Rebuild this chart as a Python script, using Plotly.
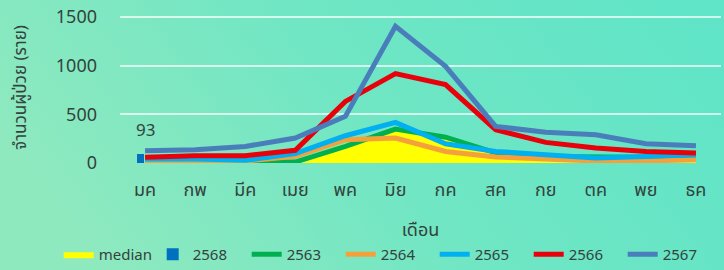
import base64
import plotly.graph_objects as go

months = ["มค", "กพ", "มีค", "เมย", "พค", "มิย", "กค", "สค", "กย", "ตค", "พย", "ธค"]
median = [10, 10, 10, 30, 200, 340, 255, 80, 50, 30, 30, 40]
y2568 = [93]
y2563 = [10, 10, 10, 10, 170, 349, 265, 105, 68, 60, 60, 70]
y2564 = [20, 20, 20, 68, 240, 257, 119, 62, 41, 20, 20, 34]
y2565 = [40, 40, 27, 96, 280, 417, 198, 119, 85, 51, 68, 85]
y2566 = [58, 75, 75, 130, 633, 918, 805, 342, 212, 154, 119, 103]
y2567 = [126, 135, 170, 257, 479, 1404, 993, 376, 315, 291, 198, 178]

FONT = "Noto Sans Thai, Noto Sans, sans-serif"
TXT = "#33433d"

svg = """<svg xmlns='http://www.w3.org/2000/svg' width='724' height='270' preserveAspectRatio='none'>
<defs><linearGradient id='g' x1='0' y1='0.3' x2='1' y2='0'>
<stop offset='0' stop-color='#8ee9bf'/>
<stop offset='0.45' stop-color='#6fe6c4'/>
<stop offset='1' stop-color='#5ce4c8'/>
</linearGradient></defs>
<rect width='724' height='270' fill='url(#g)'/>
</svg>"""
bg = "data:image/svg+xml;base64," + base64.b64encode(svg.encode()).decode()

fig = go.Figure()
fig.add_trace(go.Scatter(x=months, y=median, name="median", mode="lines",
                         fill="tozeroy", fillcolor="#ffff00",
                         line=dict(color="#ffff00", width=0)))
fig.add_trace(go.Bar(x=months[:len(y2568)], y=y2568, name="2568",
                     marker=dict(color="#0070c0", line=dict(width=0)),
                     width=0.14, offset=-0.16))
series = [("2563", y2563, "#00b050"), ("2564", y2564, "#f4a13c"),
          ("2565", y2565, "#00b0f0"), ("2566", y2566, "#e8000b"),
          ("2567", y2567, "#4a7ebb")]
for name, vals, col in series:
    fig.add_trace(go.Scatter(x=months, y=vals, name=name, mode="lines",
                             line=dict(color=col, width=5)))

fig.add_annotation(x=months[0], y=y2568[0], text=str(y2568[0]), showarrow=False,
                   yshift=23, font=dict(family=FONT, size=17, color=TXT))

fig.add_annotation(xref="paper", yref="paper", x=-0.165, y=0.466,
                   xanchor="center", yanchor="middle",
                   text="จำนวนผู้ป่วย (ราย)", textangle=-90, showarrow=False,
                   font=dict(family=FONT, size=17, color=TXT))

fig.update_layout(
    width=724, height=270,
    margin=dict(l=120, r=3, t=0, b=107, autoexpand=False),
    paper_bgcolor="rgba(0,0,0,0)", plot_bgcolor="rgba(0,0,0,0)",
    images=[dict(source=bg, xref="paper", yref="paper", x=-0.25, y=1.05,
                 sizex=1.35, sizey=2.0, sizing="stretch", xanchor="left",
                 yanchor="top", layer="below")],
    showlegend=True,
    legend=dict(orientation="h", x=-0.102, xanchor="left", y=-0.46, yanchor="top",
                font=dict(family=FONT, size=15, color=TXT), traceorder="normal",
                itemwidth=30, entrywidth=49, bgcolor="rgba(0,0,0,0)"),
    bargap=0,
)
fig.update_xaxes(range=[-0.5, 11.5], showgrid=False, zeroline=False, showline=False,
                 ticks="", tickfont=dict(family=FONT, size=18, color=TXT),
                 ticklabelstandoff=14,
                 title=dict(text="เดือน", font=dict(family=FONT, size=18, color=TXT),
                            standoff=20))
fig.update_yaxes(range=[0, 1675], tickvals=[0, 500, 1000, 1500],
                 showgrid=True, gridcolor="rgba(255,255,255,0.7)", gridwidth=2,
                 zeroline=False, showline=False, ticks="",
                 tickfont=dict(family=FONT, size=18, color=TXT),
                 ticklabelstandoff=22)

fig.write_html("out.html", config={"displayModeBar": False},
               post_script="document.body.style.margin='0';document.body.style.overflow='hidden';")
